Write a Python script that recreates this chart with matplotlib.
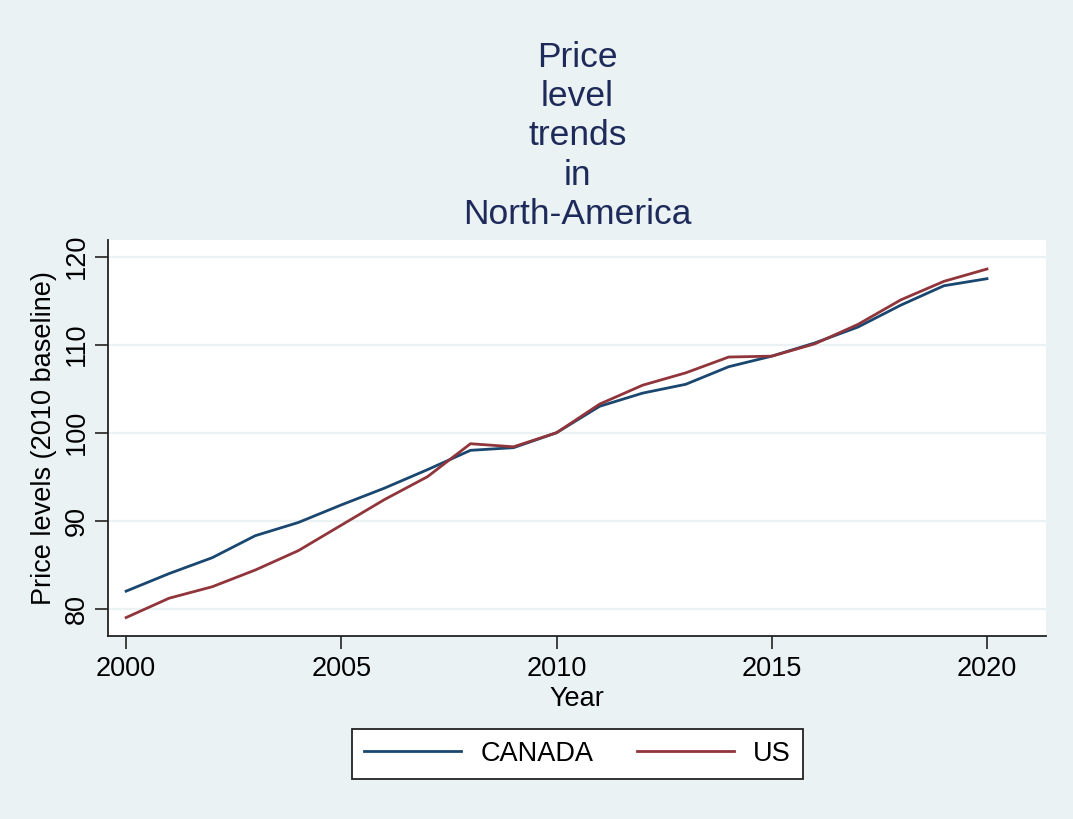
import matplotlib.pyplot as plt

# price levels, 2010 = 100
years = list(range(2000, 2021))
canada = [82.0, 84.0, 85.8, 88.3, 89.8, 91.8, 93.7, 95.8, 98.0, 98.3, 100.0,
          103.0, 104.5, 105.5, 107.5, 108.7, 110.2, 112.0, 114.5, 116.7, 117.5]
us = [79.0, 81.2, 82.5, 84.4, 86.6, 89.5, 92.4, 95.0, 98.75, 98.4, 100.0,
      103.25, 105.4, 106.8, 108.6, 108.7, 110.1, 112.3, 115.1, 117.2, 118.6]
xticks = [2000, 2005, 2010, 2015, 2020]
yticks = [80, 90, 100, 110, 120]

plt.rcParams['font.family'] = ['Liberation Sans', 'DejaVu Sans']

bg = '#eaf2f3'
fig = plt.figure(figsize=(10.73, 8.19), dpi=100, facecolor=bg)
ax = fig.add_axes([0.1007, 0.2234, 0.8741, 0.4836])
ax.set_facecolor('white')

ax.plot(years, canada, color='#1a476f', lw=2, label='CANADA')
ax.plot(years, us, color='#90353b', lw=2, label='US')

ax.set_xlim(1999.58, 2021.37)
ax.set_ylim(76.9, 121.9)
ax.set_xticks(xticks)
ax.set_yticks(yticks)
ax.grid(axis='y', color=bg, lw=1.6)
ax.set_axisbelow(True)

for s in ['top', 'right']:
    ax.spines[s].set_visible(False)
for s in ['left', 'bottom']:
    ax.spines[s].set_linewidth(1.3)
    ax.spines[s].set_color('#222222')

ax.tick_params(axis='both', length=9.5, width=1.2, labelsize=19.5, color='#222222')
ax.tick_params(axis='x', pad=5)
for lab in ax.get_yticklabels():
    lab.set_rotation(90)
    lab.set_va('center')

ax.set_xlabel('Year', fontsize=19.5, labelpad=3)
ax.set_ylabel('Price levels (2010 baseline)', fontsize=19.5, labelpad=5)

# title sits in the bg area above the plot, one word per line
fig.text(0.538, 0.718, 'Price\nlevel\ntrends\nin\nNorth-America', ha='center', va='bottom',
         fontsize=25.5, color='#1e2a5a', linespacing=1.24)

leg = fig.legend(loc='center', bbox_to_anchor=(0.538, 0.0794), ncol=2, fontsize=19.5,
                 frameon=True, fancybox=False, edgecolor='#222222', facecolor='white',
                 framealpha=1, handlelength=3.6, columnspacing=1.6, handletextpad=0.7,
                 borderpad=0.45, borderaxespad=0)
leg.get_frame().set_linewidth(1.3)

fig.savefig('out.png', dpi=100, facecolor=bg)
